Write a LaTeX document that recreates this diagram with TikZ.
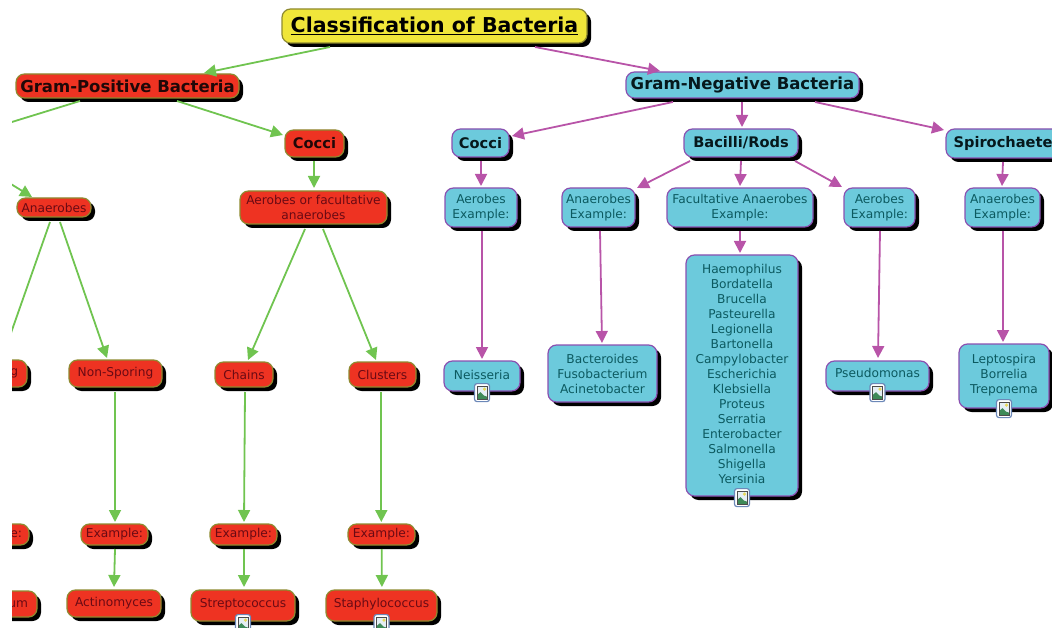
\documentclass[tikz,border=0pt]{standalone}
\usepackage{fontspec}
\setmainfont{DejaVu Sans}
\usetikzlibrary{arrows.meta,shadows}
\definecolor{redfill}{HTML}{EE3322}
\definecolor{redline}{HTML}{8E8A30}
\definecolor{redtext}{HTML}{6A0A14}
\definecolor{bluefill}{HTML}{6CCADC}
\definecolor{blueline}{HTML}{8A50B0}
\definecolor{bluetext}{HTML}{0C5A60}
\definecolor{yellowfill}{HTML}{F0E63A}
\definecolor{greenarrow}{HTML}{70C450}
\definecolor{pinkarrow}{HTML}{B854A8}
\definecolor{headred}{HTML}{200808}
\definecolor{headblue}{HTML}{06181C}
\definecolor{iconsky}{HTML}{E4EEF4}
\definecolor{iconhill}{HTML}{3E8A58}
\definecolor{iconframe}{HTML}{6C88B8}
\definecolor{iconsun}{HTML}{E8D858}
\tikzset{
  x=1pt,y=-1pt,
  basebox/.style={rounded corners=8.5pt,line width=1.2pt,align=center,inner sep=0pt,
    font=\fontsize{12.2}{15}\selectfont,
    general shadow={fill=black,shadow xshift=4pt,shadow yshift=-4pt}},
  redbox/.style={basebox,fill=redfill,draw=redline,text=redtext},
  bluebox/.style={basebox,fill=bluefill,draw=blueline,text=bluetext},
  headfont/.style={font=\fontsize{14.6}{17}\bfseries\selectfont},
  topfont/.style={font=\fontsize{16.5}{19}\bfseries\selectfont},
  redhead/.style={redbox,text=headred},
  bluehead/.style={bluebox,text=headblue},
  dim/.style n args={2}{minimum width=#1pt,minimum height=#2pt},
  greenlink/.style={draw=greenarrow,line width=1.8pt,-{Triangle[length=12pt,width=12pt]}},
  pinklink/.style={draw=pinkarrow,line width=1.8pt,-{Triangle[length=12pt,width=12pt]}},
  imgicon/.pic={
    \draw[rounded corners=2.5pt,fill=white,draw=iconframe,line width=1.2pt] (-7.5,-9) rectangle (7.5,9);
    \fill[iconsky] (-5,-6.5) rectangle (5,6.5);
    \fill[iconsun] (2.5,-3.5) circle (1.7);
    \fill[iconhill] (-5,6.5) -- (-5,2.5) -- (-1.5,-0.5) -- (2,3) -- (5,4) -- (5,6.5) -- cycle;
    \draw[black!70,line width=.6pt] (-5,-6.5) rectangle (5,6.5);
  }
}
\newcommand\lnk[6]{\draw[#1] ([shift={(#3)}]#2.center) -- ([shift={(#5)}]#4.center)#6;}
\newcommand\setat[2]{\raisebox{#1}[0pt][0pt]{#2}}
\begin{document}
\begin{tikzpicture}
\useasboundingbox (0,0) rectangle (1052,628);
\clip (12,0) rectangle (1052,628);
% title
\node[basebox,fill=yellowfill,draw=redline,dim={305}{34},font=\fontsize{20.5}{23}\bfseries\selectfont,text=black] (title) at (434.5,26) {\underline{Classification of Bacteria}};
% gram positive
\node[redhead,topfont,dim={223}{24}] (gp) at (127.5,86) {Gram-Positive Bacteria};
\node[redhead,headfont,dim={59}{27}] (pcocci) at (314.5,143.5) {Cocci};
\node[redbox,dim={147}{33}] (aerf) at (313.5,207.5) {Aerobes or facultative\\anaerobes};
\node[redbox,dim={74}{19}] (ana) at (54,207.5) {Anaerobes};
\node[redbox,dim={93}{27}] (nons) at (115.5,373.5) {Non-Sporing};
\node[redbox,dim={58}{25}] (chains) at (244,374.5) {Chains};
\node[redbox,dim={67}{25}] (clusters) at (382.5,374.5) {Clusters};
\node[redbox,dim={67}{21}] (exa) at (114.5,534.5) {Example:};
\node[redbox,dim={67}{21}] (exb) at (243.5,534.5) {Example:};
\node[redbox,dim={67}{21}] (exc) at (381.5,534.5) {Example:};
\node[redbox,dim={94}{27}] (act) at (114,603.5) {\setat{-2.5pt}{Actinomyces}};
\node[redbox,dim={104}{31}] (strep) at (243,605.5) {\setat{-1.5pt}{Streptococcus}};
\node[redbox,dim={111}{31}] (staph) at (381.5,605.5) {\setat{-1.5pt}{Staphylococcus}};
\node[redbox,minimum height=27pt,text width=50pt,align=right,inner xsep=9pt] (spor) at (-7,373.5) {g};
\node[redbox,minimum height=21pt,text width=50pt,align=right,inner xsep=7pt] (exz) at (-3,534.5) {e:};
\node[redbox,minimum height=26pt,text width=50pt,align=right,inner xsep=9pt] (um) at (3,604) {um};
% gram negative
\node[bluehead,topfont,dim={233}{26}] (gn) at (742.5,85) {Gram-Negative Bacteria};
\node[bluehead,headfont,dim={57}{28}] (ncocci) at (480.5,143) {Cocci};
\node[bluehead,headfont,dim={114}{28}] (bac) at (741,143) {Bacilli/Rods};
\node[bluehead,headfont,dim={114}{29}] (spiro) at (1003,143.5) {Spirochaete};
\node[bluebox,dim={72}{39}] (naer) at (481,207.5) {Aerobes\\Example:};
\node[bluebox,dim={73}{39}] (nana) at (598.5,207.5) {Anaerobes\\Example:};
\node[bluebox,dim={146}{39}] (nfac) at (740,207.5) {Facultative Anaerobes\\Example:};
\node[bluebox,dim={71}{39}] (npae) at (879.5,207.5) {Aerobes\\Example:};
\node[bluebox,dim={75}{39}] (sana) at (1002.5,207.5) {Anaerobes\\Example:};
\node[bluebox,dim={76}{30}] (neis) at (482,376) {\setat{-3pt}{Neisseria}};
\node[bluebox,dim={109}{57}] (bact) at (602.5,373.5) {Bacteroides\\Fusobacterium\\Acinetobacter};
\node[bluebox,dim={112}{241}] (big) at (742,375.5) {Haemophilus\\Bordatella\\Brucella\\Pasteurella\\Legionella\\Bartonella\\Campylobacter\\Escherichia\\Klebsiella\\Proteus\\Serratia\\Enterobacter\\Salmonella\\Shigella\\Yersinia\vspace{4pt}};
\node[bluebox,dim={103}{30}] (pseu) at (877.5,376) {\setat{-1.5pt}{Pseudomonas}};
\node[bluebox,dim={90}{64}] (lept) at (1004,376) {Leptospira\\Borrelia\\Treponema\vspace{2pt}};
% free ends
\coordinate (fa) at (-40,138);
\coordinate (fb) at (-20,165);
\coordinate (fc) at (5,350);
% connectors
\lnk{greenlink}{title}{-104.5,21}{gp}{76.5,-13}{}
\lnk{greenlink}{gp}{49.5,15}{pcocci}{-31.5,-8.5}{}
\draw[draw=greenarrow,line width=1.8pt] ([shift={(-47.5,15)}]gp.center) -- (fa);
\draw[greenlink] (fb) -- ([shift={(-22,-10.5)}]ana.center);
\draw[draw=greenarrow,line width=1.8pt] ([shift={(-4,14.5)}]ana.center) -- (fc);
\lnk{greenlink}{pcocci}{-0.5,17.5}{aerf}{0.5,-19.5}{}
\lnk{greenlink}{ana}{6,14.5}{nons}{-8.5,-15.5}{}
\lnk{greenlink}{aerf}{-8.5,21.5}{chains}{4,-14.5}{}
\lnk{greenlink}{aerf}{9.5,21.5}{clusters}{-6.5,-14.5}{}
\lnk{greenlink}{nons}{-0.5,18.5}{exa}{0.5,-12.5}{}
\lnk{greenlink}{exa}{0.5,14.5}{act}{0,-16.5}{}
\lnk{greenlink}{chains}{1,17.5}{exb}{0.5,-12.5}{}
\lnk{greenlink}{exb}{0.5,14.5}{strep}{1,-18.5}{}
\lnk{greenlink}{clusters}{-1.2,17.5}{exc}{-0.2,-12.5}{}
\lnk{greenlink}{exc}{0.2,14.5}{staph}{0.4,-18.5}{}
\lnk{pinklink}{title}{100.5,21}{gn}{-82.5,-14}{}
\lnk{pinklink}{gn}{-69.5,17}{ncocci}{31.5,-7}{}
\lnk{pinklink}{gn}{-0.5,17}{bac}{1,-16}{}
\lnk{pinklink}{gn}{72.5,17}{spiro}{-59,-13.5}{}
\lnk{pinklink}{ncocci}{0.5,18}{naer}{0,-21.5}{}
\lnk{pinklink}{naer}{1,23.5}{neis}{0,-17}{}
\lnk{pinklink}{bac}{-51,18}{nana}{38.5,-19.5}{}
\lnk{pinklink}{bac}{0,18}{nfac}{0,-21.5}{}
\lnk{pinklink}{bac}{54,18}{npae}{-37.5,-20.5}{}
\lnk{pinklink}{nana}{1.5,23.5}{bact}{-0.5,-30.5}{}
\lnk{pinklink}{nfac}{0,23.5}{big}{-2,-122.5}{}
\lnk{pinklink}{npae}{0.5,23.5}{pseu}{0.5,-18}{}
\lnk{pinklink}{spiro}{0,18.5}{sana}{-0.5,-21.5}{}
\lnk{pinklink}{sana}{0.5,23.5}{lept}{-1,-34}{}
% image icons
\pic at ([yshift=-1pt]neis.south) {imgicon};
\pic at ([yshift=-1pt]big.south) {imgicon};
\pic at ([yshift=-1pt]pseu.south) {imgicon};
\pic at ([yshift=0pt]lept.south) {imgicon};
\pic at ([yshift=-2pt]strep.south) {imgicon};
\pic at ([yshift=-2pt]staph.south) {imgicon};
\end{tikzpicture}
\end{document}
